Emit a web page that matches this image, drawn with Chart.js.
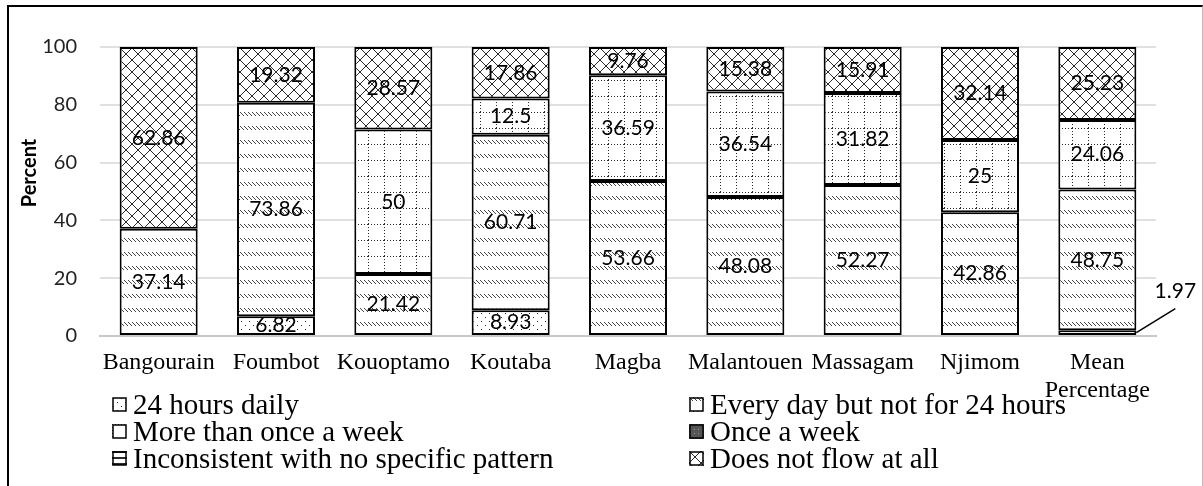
<!DOCTYPE html>
<html>
<head>
<meta charset="utf-8">
<script src="https://cdn.jsdelivr.net/npm/chart.js@4.4.1/dist/chart.umd.min.js"></script>
<style>
  html, body { margin: 0; padding: 0; background: #fff; }
  #wrap { position: relative; width: 1203px; height: 486px; overflow: hidden; background: #fff; }
  #frame { position: absolute; left: 7px; top: 5px; width: 1193px; height: 490px; border-left: 2px solid #000; border-top: 2px solid #000; border-right: 1px solid #bbb; }
  #c { position: absolute; left: 0; top: 0; }
  .leg { position: absolute; font-family: "Liberation Serif", "Times New Roman", serif; font-size: 29px; line-height: 27px; color: #000; white-space: nowrap; }
  .leg canvas { position: absolute; left: -21px; top: 6px; }
</style>
</head>
<body>
<div id="wrap">
  <div id="frame"></div>
  <canvas id="c" width="1203" height="486"></canvas>
  <div id="legend"></div>
</div>
<script>
// ---- data ----
const categories = ['Bangourain', 'Foumbot', 'Kouoptamo', 'Koutaba', 'Magba', 'Malantouen', 'Massagam', 'Njimom', ['Mean', 'Percentage']];
const hours24Daily      = [0, 6.82, 0, 8.93, 0, 0, 0, 0, 1.97];
const everyDayNot24     = [37.14, 73.86, 21.42, 60.71, 53.66, 48.08, 52.27, 42.86, 48.75];
const moreThanOnceWeek  = [0, 0, 50, 12.5, 36.59, 36.54, 31.82, 25, 24.06];
const onceAWeek         = [0, 0, 0, 0, 0, 0, 0, 0, 0];
const inconsistent      = [0, 0, 0, 0, 0, 0, 0, 0, 0];
const doesNotFlow       = [62.86, 19.32, 28.57, 17.86, 9.76, 15.38, 15.91, 32.14, 25.23];
const seriesNames = ['24 hours daily', 'Every day but not for 24 hours', 'More than once a week', 'Once a week', 'Inconsistent with no specific pattern', 'Does not flow at all'];
const yTicks = [0, 20, 40, 60, 80, 100];

// ---- patterns ----
function tile(w, h, draw) {
  const t = document.createElement('canvas');
  t.width = w; t.height = h;
  const g = t.getContext('2d');
  g.fillStyle = '#fff'; g.fillRect(0, 0, w, h);
  draw(g);
  return g.createPattern(t, 'repeat');
}
const INK = '#2a2a2a';
const patDots = tile(8, 8, g => { g.fillStyle = INK; g.fillRect(1, 1, 1, 1); g.fillRect(5, 5, 1, 1); });
const patDiag = tile(4, 14, g => { g.fillStyle = '#444'; for (let i = 0; i < 4; i++) g.fillRect(i, i, 1, 1); });
const patGrid = tile(16, 16, g => { g.fillStyle = INK; for (let i = 0; i < 16; i += 3) { g.fillRect(i, 0, 1, 1); g.fillRect(0, i, 1, 1); } });
const patSolid = tile(4, 4, g => { g.fillStyle = '#555'; g.fillRect(0, 0, 4, 4); g.fillStyle = '#999'; g.fillRect(1, 1, 1, 1); });
const patHoriz = tile(4, 6, g => { g.fillStyle = INK; g.fillRect(0, 0, 4, 2); });
const patCross = tile(12, 12, g => { g.fillStyle = INK; for (let i = 0; i < 12; i++) { g.fillRect(i, i, 1, 1); g.fillRect(11 - i, i, 1, 1); } });
const patterns = [patDots, patDiag, patGrid, patSolid, patHoriz, patCross];
const seriesData = [hours24Daily, everyDayNot24, moreThanOnceWeek, onceAWeek, inconsistent, doesNotFlow];

// ---- plugins ----
const labelsPlugin = {
  id: 'segLabels',
  afterDatasetsDraw(chart) {
    const ctx = chart.ctx;
    ctx.save();
    ctx.font = '21px Lato, "Liberation Sans", sans-serif';
    ctx.fillStyle = '#000';
    ctx.textAlign = 'center';
    ctx.textBaseline = 'middle';
    chart.data.datasets.forEach((ds, i) => {
      const meta = chart.getDatasetMeta(i);
      meta.data.forEach((bar, j) => {
        const v = ds.data[j];
        if (!v) return;
        const cy = (bar.y + bar.base) / 2;
        const h = Math.abs(bar.base - bar.y);
        if (h < 12) {
          const sx = bar.x + bar.width / 2, sy = cy;
          ctx.strokeStyle = '#000'; ctx.lineWidth = 1.5;
          ctx.beginPath(); ctx.moveTo(sx, sy); ctx.lineTo(sx + 39, sy - 24); ctx.stroke();
          ctx.fillText(String(v), bar.x + 78, cy - 41);
        } else {
          ctx.fillText(String(v), bar.x, cy);
        }
      });
    });
    ctx.restore();
  }
};
const yTitlePlugin = {
  id: 'yTitle',
  afterDraw(chart) {
    const ctx = chart.ctx;
    ctx.save();
    ctx.translate(30, 173);
    ctx.rotate(-Math.PI / 2);
    ctx.font = 'bold 20px Lato, "Liberation Sans", sans-serif';
    ctx.fillStyle = '#000';
    ctx.textAlign = 'center';
    ctx.textBaseline = 'middle';
    ctx.fillText('Percent', 0, 0);
    ctx.restore();
  }
};

// ---- chart ----
new Chart(document.getElementById('c'), {
  type: 'bar',
  data: {
    labels: categories,
    datasets: seriesNames.map((name, i) => ({
      label: name,
      data: seriesData[i],
      backgroundColor: patterns[i],
      borderColor: '#000',
      borderWidth: c => (c.raw ? 2 : 0),
      borderSkipped: false,
      barPercentage: 0.665,
      categoryPercentage: 1
    }))
  },
  options: {
    responsive: false,
    animation: false,
    devicePixelRatio: 1,
    layout: { padding: { left: 0, top: 47, right: 47, bottom: 0 } },
    plugins: { legend: { display: false }, tooltip: { enabled: false } },
    scales: {
      x: {
        stacked: true,
        afterFit: s => { s.height = 150; },
        grid: { display: false, drawTicks: false },
        border: { display: true, color: '#c8c8c8', width: 2 },
        ticks: { color: '#000', padding: 13, font: { family: '"Liberation Serif", "Times New Roman", serif', size: 24, lineHeight: 1.17 }, maxRotation: 0, autoSkip: false }
      },
      y: {
        stacked: true,
        min: 0, max: 100,
        afterFit: s => { s.width = 100; },
        afterBuildTicks: s => { s.ticks = yTicks.map(v => ({ value: v })); },
        grid: { color: '#e0e0e0', lineWidth: 2, drawTicks: false },
        border: { display: false },
        ticks: { color: '#222', padding: 23, font: { family: 'Lato, "Liberation Sans", sans-serif', size: 20 } }
      }
    }
  },
  plugins: [labelsPlugin, yTitlePlugin]
});

// ---- legend (HTML) ----
const legPos = [[133, 391], [710, 391], [133, 418], [710, 418], [133, 445], [710, 445]];
const legend = document.getElementById('legend');
seriesNames.forEach((name, i) => {
  const d = document.createElement('div');
  d.className = 'leg';
  d.style.left = legPos[i][0] + 'px';
  d.style.top = legPos[i][1] + 'px';
  const ic = document.createElement('canvas');
  ic.width = 15; ic.height = 15;
  const g = ic.getContext('2d');
  g.fillStyle = patterns[i]; g.fillRect(0, 0, 15, 15);
  g.strokeStyle = '#000'; g.lineWidth = 1.5; g.strokeRect(1, 1, 13, 13);
  d.appendChild(ic);
  d.appendChild(document.createTextNode(name));
  legend.appendChild(d);
});
</script>
</body>
</html>
